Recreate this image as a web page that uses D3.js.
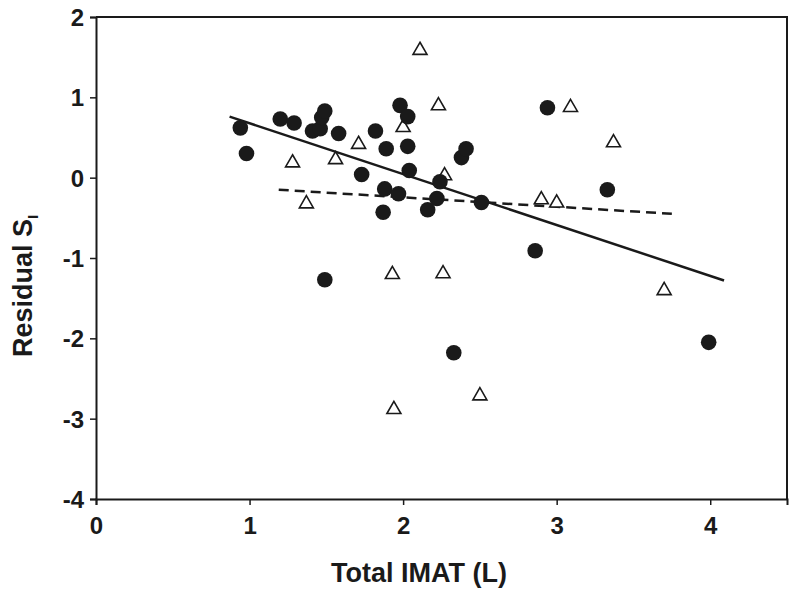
<!DOCTYPE html>
<html>
<head>
<meta charset="utf-8">
<script src="https://d3js.org/d3.v7.min.js"></script>
<style>
  html, body { margin: 0; padding: 0; background: #fff; }
  svg { display: block; }
  text { font-family: "Liberation Sans", Arial, Helvetica, sans-serif; font-weight: bold; fill: #1a1a1a; }
</style>
</head>
<body>
<svg id="chart" width="800" height="591"></svg>
<script>
// ---- Data ----
const circleX = [0.94, 0.98, 1.20, 1.29, 1.41, 1.46, 1.47, 1.49, 1.58, 1.82, 1.73, 1.89, 1.98, 2.03, 2.03, 1.87, 1.88, 1.97, 2.04, 2.16, 2.22, 2.24, 2.38, 2.41, 2.51, 2.94, 2.86, 1.49, 2.33, 3.33, 3.99];
const circleY = [0.62, 0.30, 0.73, 0.68, 0.58, 0.61, 0.75, 0.83, 0.55, 0.58, 0.04, 0.36, 0.90, 0.76, 0.39, -0.43, -0.14, -0.20, 0.09, -0.40, -0.26, -0.05, 0.25, 0.36, -0.31, 0.87, -0.91, -1.27, -2.18, -0.15, -2.05];

const triX = [2.11, 2.23, 3.09, 2.00, 1.71, 3.37, 1.28, 1.56, 2.27, 1.37, 2.90, 3.00, 1.93, 2.26, 3.70, 1.94, 2.50];
const triY = [1.61, 0.92, 0.90, 0.65, 0.44, 0.46, 0.21, 0.25, 0.05, -0.30, -0.25, -0.29, -1.18, -1.17, -1.38, -2.86, -2.69];

// fitted lines: [x0, x1], [y0, y1]
const solidFitX = [0.87, 4.09];
const solidFitY = [0.76, -1.28];
const dashedFitX = [1.19, 3.75];
const dashedFitY = [-0.15, -0.45];

const xTicks = [0, 1, 2, 3, 4];
const yTicks = [2, 1, 0, -1, -2, -3, -4];
const xTitle = "Total IMAT (L)";
const yTitle = "Residual S";
const yTitleSub = "I";

// ---- Layout ----
const W = 800, H = 591;
const m = { left: 96, top: 17, right: 13, bottom: 92 };
const svg = d3.select("#chart");
const x = d3.scaleLinear().domain([0, 4.5]).range([m.left, W - m.right]);
const y = d3.scaleLinear().domain([-4, 2]).range([H - m.bottom, m.top]);

const ink = "#1a1a1a";

// frame (top and right)
svg.append("path")
  .attr("d", `M${x(0)},${y(2)}H${x(4.5)}V${y(-4)}`)
  .attr("fill", "none").attr("stroke", ink).attr("stroke-width", 2);

// axes
const xAxis = svg.append("g")
  .attr("transform", `translate(0,${y(-4)})`)
  .call(d3.axisBottom(x).tickValues(xTicks).tickSize(6).tickPadding(12).tickFormat(d3.format("d")));
const yAxis = svg.append("g")
  .attr("transform", `translate(${x(0)},0)`)
  .call(d3.axisLeft(y).tickValues(yTicks).tickSize(6).tickPadding(6).tickFormat(d => d < 0 ? "-" + Math.abs(d) : d));

[xAxis, yAxis].forEach(g => {
  g.select(".domain").attr("stroke", ink).attr("stroke-width", 2);
  g.selectAll(".tick line").attr("stroke", ink).attr("stroke-width", 1.5);
  g.selectAll(".tick text").attr("fill", ink)
    .style("font-size", "24px").style("font-weight", "bold")
    .style("font-family", '"Liberation Sans", Arial, sans-serif');
});
yAxis.selectAll(".tick text").attr("dy", "0.36em");

// axis titles
svg.append("text")
  .attr("x", 419).attr("y", 582)
  .attr("text-anchor", "middle")
  .style("font-size", "27px")
  .text(xTitle);

const yt = svg.append("text")
  .attr("transform", `translate(32,${357}) rotate(-90)`)
  .attr("text-anchor", "start")
  .style("font-size", "27px");
yt.append("tspan").text(yTitle);
yt.append("tspan").attr("dy", 6).style("font-size", "15px").text(yTitleSub);

// fitted lines
const lineGen = d3.line().x(d => x(d[0])).y(d => y(d[1]));
svg.append("path")
  .datum(d3.zip(solidFitX, solidFitY))
  .attr("d", lineGen)
  .attr("fill", "none").attr("stroke", ink).attr("stroke-width", 2.5);
svg.append("path")
  .datum(d3.zip(dashedFitX, dashedFitY))
  .attr("d", lineGen)
  .attr("fill", "none").attr("stroke", ink).attr("stroke-width", 2.5)
  .attr("stroke-dasharray", "10,6");

// triangles (open)
const side = 14;
const th = side * Math.sqrt(3) / 2;
const triPath = `M0,${-th/2}L${side/2},${th/2}L${-side/2},${th/2}Z`;
svg.append("g").selectAll("path")
  .data(d3.zip(triX, triY))
  .join("path")
  .attr("transform", d => `translate(${x(d[0])},${y(d[1])})`)
  .attr("d", triPath)
  .attr("fill", "#fff").attr("stroke", ink).attr("stroke-width", 1.6);

// filled circles
svg.append("g").selectAll("circle")
  .data(d3.zip(circleX, circleY))
  .join("circle")
  .attr("cx", d => x(d[0])).attr("cy", d => y(d[1]))
  .attr("r", 7.8)
  .attr("fill", ink);
</script>
</body>
</html>
